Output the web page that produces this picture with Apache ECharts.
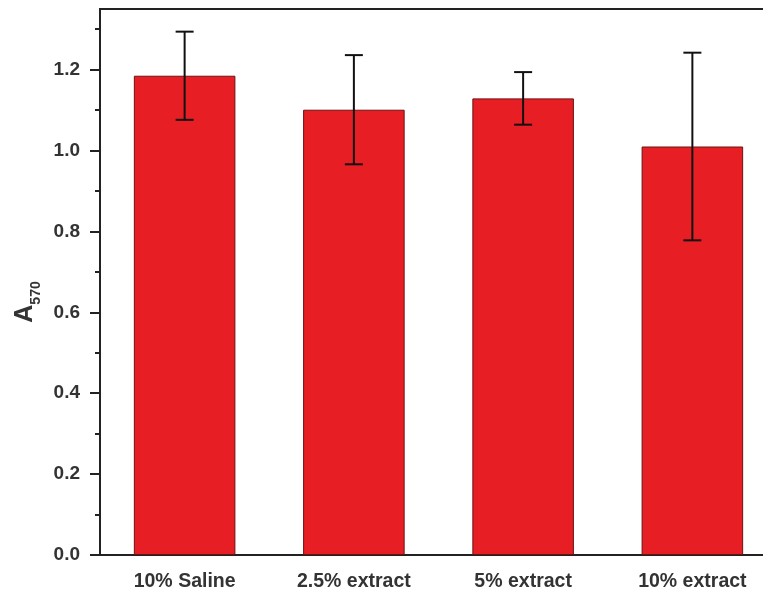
<!DOCTYPE html>
<html>
<head>
<meta charset="utf-8">
<script src="https://cdn.jsdelivr.net/npm/echarts@6/dist/echarts.min.js"></script>
<style>html,body{margin:0;padding:0;background:#fff;}#main{width:763px;height:597px;}</style>
</head>
<body>
<div id="main"></div>
<script>
var categories = ['10% Saline', '2.5% extract', '5% extract', '10% extract'];
var values = [1.185, 1.101, 1.129, 1.010];
var errors = [0.109, 0.135, 0.065, 0.232];
var yMajorTicks = [0, 0.2, 0.4, 0.6, 0.8, 1.0, 1.2];
var yMinorTicks = [0.1, 0.3, 0.5, 0.7, 0.9, 1.1, 1.3];

var errData = values.map(function (v, i) { return [i, v, errors[i]]; });

var chart = echarts.init(document.getElementById('main'));
var axisColor = '#222';
var textColor = '#333';
var fam = 'Liberation Sans, Arial, sans-serif';
chart.setOption({
  animation: false,
  grid: { left: 100, top: 9, width: 677, height: 546, outerBoundsMode: 'none', containLabel: false, show: true, borderColor: axisColor, borderWidth: 2, backgroundColor: 'transparent' },
  xAxis: {
    type: 'category',
    data: categories,
    axisLine: { lineStyle: { color: axisColor, width: 2 } },
    axisTick: { alignWithLabel: true, length: 8, lineStyle: { color: axisColor, width: 2 } },
    axisLabel: { color: textColor, fontSize: 19.5, fontWeight: 'bold', fontFamily: fam, margin: 17 },
    splitLine: { show: false }
  },
  yAxis: [{
    type: 'value',
    min: 0, max: 1.35,
    name: '{a|A}{s|570}',
    nameLocation: 'middle',
    nameRotate: 90,
    nameGap: 55,
    nameTextStyle: {
      padding: [0, 40, 0, 0],
      rich: {
        a: { fontSize: 25, fontWeight: 'bold', color: textColor, fontFamily: fam, verticalAlign: 'bottom', padding: [0, 0, 5, 0] },
        s: { fontSize: 14, fontWeight: 'bold', color: textColor, fontFamily: fam, verticalAlign: 'bottom' }
      }
    },
    axisLine: { show: true, lineStyle: { color: axisColor, width: 2 } },
    axisTick: { show: true, length: 10, customValues: yMajorTicks, lineStyle: { color: axisColor, width: 2 } },
    axisLabel: { customValues: yMajorTicks, color: textColor, fontSize: 19, fontWeight: 'bold', fontFamily: fam, margin: 20,
      formatter: function (v) { return v.toFixed(1); } },
    splitLine: { show: false }
  }, {
    type: 'value',
    min: 0, max: 1.35,
    position: 'left',
    axisLine: { show: false },
    axisTick: { show: true, length: 5, customValues: yMinorTicks, lineStyle: { color: axisColor, width: 2 } },
    axisLabel: { show: false },
    splitLine: { show: false }
  }],
  series: [{
    type: 'bar',
    data: values,
    barWidth: '60%',
    itemStyle: { color: '#e81e25', borderColor: '#6a1212', borderWidth: 1 },
    z: 2
  }, {
    type: 'custom',
    data: errData,
    z: 5,
    renderItem: function (params, api) {
      var i = api.value(0), v = api.value(1), e = api.value(2);
      var top = api.coord([i, v + e]);
      var bot = api.coord([i, v - e]);
      var hw = 9;
      var style = { stroke: '#111', lineWidth: 2 };
      return {
        type: 'group',
        children: [
          { type: 'line', shape: { x1: top[0], y1: top[1], x2: bot[0], y2: bot[1] }, style: style },
          { type: 'line', shape: { x1: top[0] - hw, y1: top[1], x2: top[0] + hw, y2: top[1] }, style: style },
          { type: 'line', shape: { x1: bot[0] - hw, y1: bot[1], x2: bot[0] + hw, y2: bot[1] }, style: style }
        ]
      };
    }
  }]
});
</script>
</body>
</html>
